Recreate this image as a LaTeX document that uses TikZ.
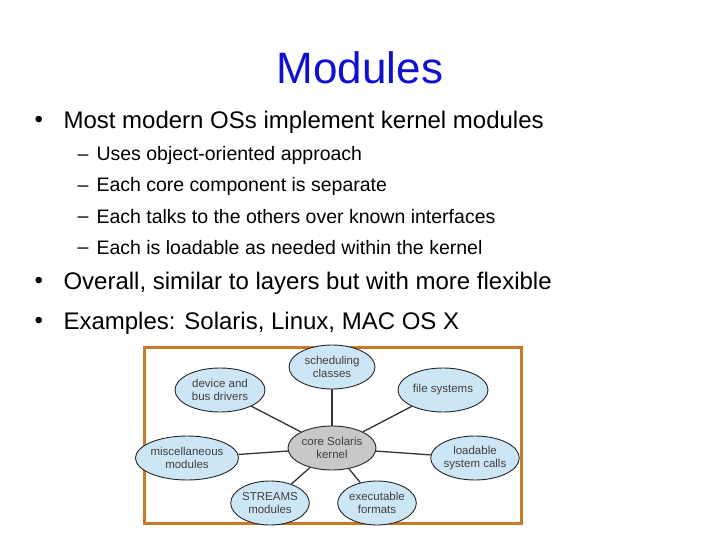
\documentclass[tikz,border=0pt]{standalone}
\usepackage{fontspec}
\setmainfont{Liberation Sans}
\usetikzlibrary{shapes.geometric}
\definecolor{ttl}{RGB}{16,16,208}
\definecolor{frm}{RGB}{200,122,40}
\definecolor{bub}{RGB}{205,230,245}
\definecolor{cor}{RGB}{200,200,200}
\tikzset{
 bubble/.style={ellipse,draw=black!85,line width=0.9pt,fill=bub,minimum width=#1,minimum height=44pt,inner sep=0pt,align=center,font=\fontsize{11.5}{12.5}\selectfont,text=black!75},
 bubble/.default=88pt,
 link/.style={line width=1.3pt,black!80},
 bl/.style={anchor=west,font=\fontsize{24}{27}\selectfont},
 sbl/.style={anchor=west,font=\fontsize{19.5}{22}\selectfont},
}
\begin{document}
\begin{tikzpicture}[x=1pt,y=-1pt]
\useasboundingbox (0,0) rectangle (720,540);
\node[text=ttl,font=\fontsize{44}{48}\selectfont] (title) at (360,68) {Modules};
\node[bl] (b1m) at (31,122) {•}; \node[bl] (b1) at (60,122) {Most modern OSs implement kernel modules};
\node[sbl] (s1m) at (74,158) {–}; \node[sbl] (s1) at (93,155) {Uses object-oriented approach};
\node[sbl] (s2m) at (74,189) {–}; \node[sbl] (s2) at (93,186) {Each core component is separate};
\node[sbl] (s3m) at (74,220) {–}; \node[sbl] (s3) at (93,217) {Each talks to the others over known interfaces};
\node[sbl] (s4m) at (74,251) {–}; \node[sbl] (s4) at (93,248) {Each is loadable as needed within the kernel};
\node[bl] (b2m) at (31,283) {•}; \node[bl] (b2) at (60,283) {Overall, similar to layers but with more flexible};
\node[bl] (b3m) at (31,323) {•}; \node[bl] (b3) at (60,323) {Examples: Solaris, Linux, MAC OS X};
\fill[white] (143,346) rectangle (523,525);
\draw[frm,line width=3pt] (144.5,347.5) rectangle (521.5,523.5);
\node[bubble=88pt,fill=cor] (core) at (332,448) {core Solaris\\kernel};
\node[bubble=86pt] (sch) at (332,367) {scheduling\\classes};
\node[bubble=90pt] (dev) at (220,390) {device and\\bus drivers};
\node[bubble=90pt] (fs) at (443,390) {file systems};
\node[bubble=92pt] (misc) at (187,458) {miscellaneous\\modules};
\node[bubble=88pt] (load) at (475,458) {loadable\\system calls};
\node[bubble=78pt] (str) at (270,503) {STREAMS\\modules};
\node[bubble=76pt] (exe) at (377,503) {executable\\formats};
\foreach \n in {sch,dev,fs,misc,load,str,exe} \draw[link] (core) -- (\n);
\end{tikzpicture}
\end{document}
